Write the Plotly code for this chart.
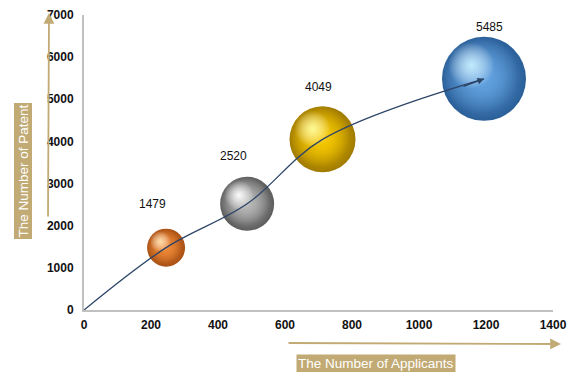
import plotly.graph_objects as go

# ---- data ----
applicants = [245, 487, 712, 1194]          # x values
patents = [1479, 2520, 4049, 5485]          # y values
bubble_px = [38, 54, 66, 84]                # bubble diameters (px)
base_colors = ["#ee8836", "#b8b8b8", "#f6c800", "#62a2e0"]
base_clear = ["rgba(238,136,54,0)", "rgba(184,184,184,0)",
              "rgba(246,200,0,0)", "rgba(98,162,224,0)"]
edge_colors = ["#a85014", "#5c5c5c", "#a07a00", "#2a5f98"]
hi_colors = ["rgba(255,225,170,0.95)", "rgba(255,255,255,0.95)",
             "rgba(255,255,150,0.95)", "rgba(195,238,255,0.95)"]
x_ticks = [0, 200, 400, 600, 800, 1000, 1200, 1400]
y_ticks = [0, 1000, 2000, 3000, 4000, 5000, 6000, 7000]

W, H = 571, 372
ML, MR, MT, MB = 84, 18, 15, 62
PW, PH = W - ML - MR, H - MT - MB
XR, YR = 1400, 7000
TAN = "#c2aa74"
NAVY = "#2b4468"


def shifted(i, fx, fy):
    r = bubble_px[i] / 2
    return applicants[i] + fx * r * XR / PW, patents[i] - fy * r * YR / PH


fig = go.Figure()

for i in range(len(applicants)):
    # base sphere: dark rim
    fig.add_trace(go.Scatter(
        x=[applicants[i]], y=[patents[i]], mode="markers",
        marker=dict(size=bubble_px[i], color=edge_colors[i],
                    gradient=dict(type="radial", color=base_colors[i]),
                    line=dict(width=0)),
        hoverinfo="skip", showlegend=False))
    # body colour, shifted up-left so the rim darkens toward lower right
    bx, by = shifted(i, -0.10, -0.10)
    fig.add_trace(go.Scatter(
        x=[bx], y=[by], mode="markers",
        marker=dict(size=bubble_px[i] * 0.92, color=base_clear[i],
                    gradient=dict(type="radial", color=base_colors[i]),
                    line=dict(width=0)),
        hoverinfo="skip", showlegend=False))
    # specular highlight
    hx, hy = shifted(i, -0.30, -0.32)
    fig.add_trace(go.Scatter(
        x=[hx], y=[hy], mode="markers",
        marker=dict(size=bubble_px[i] * 0.55, color="rgba(255,255,255,0)",
                    gradient=dict(type="radial", color=hi_colors[i]),
                    line=dict(width=0)),
        hoverinfo="skip", showlegend=False))

# trend curve over spheres
fig.add_trace(go.Scatter(
    x=[0] + applicants, y=[0] + patents, mode="lines",
    line=dict(color=NAVY, width=1.3, shape="spline", smoothing=1.0),
    hoverinfo="skip", showlegend=False))

# arrow head at the end of the curve
fig.add_annotation(x=applicants[-1], y=patents[-1], ax=-22, ay=8,
                   xref="x", yref="y", showarrow=True, arrowhead=2,
                   arrowsize=1, arrowwidth=1.3, arrowcolor=NAVY, text="")

# value labels
shifts = [(-14, 44), (-14, 48), (-4, 52), (6, 52)]
for i in range(len(applicants)):
    fig.add_annotation(x=applicants[i], y=patents[i], text=str(patents[i]),
                       showarrow=False, xshift=shifts[i][0], yshift=shifts[i][1],
                       font=dict(family="Liberation Sans", size=12, color="#111"))

# axis title boxes & arrows (paper coords)
fig.add_annotation(xref="paper", yref="paper", x=(376 - ML) / PW, y=(H - MB - 363) / PH,
                   xanchor="center", yanchor="middle",
                   text="The Number of Applicants", showarrow=False,
                   bgcolor=TAN, font=dict(family="Liberation Sans", size=13.5, color="white"),
                   borderpad=1)
fig.add_annotation(xref="paper", yref="paper", x=(22.5 - ML) / PW, y=(H - MB - 171) / PH,
                   xanchor="center", yanchor="middle",
                   text="The Number of Patent", showarrow=False, textangle=-90,
                   bgcolor=TAN, font=dict(family="Liberation Sans", size=13.5, color="white"),
                   borderpad=1)
fig.add_annotation(xref="paper", yref="paper",
                   x=(561 - ML) / PW, y=(H - MB - 344) / PH,
                   ax=-274, ay=-1,
                   text="", showarrow=True, arrowhead=2, arrowsize=1.2, arrowwidth=1.8,
                   arrowcolor=TAN)
fig.add_annotation(xref="paper", yref="paper",
                   x=(49 - ML) / PW, y=(H - MB - 13) / PH,
                   ax=-1, ay=205,
                   text="", showarrow=True, arrowhead=2, arrowsize=1.2, arrowwidth=1.8,
                   arrowcolor=TAN)

axis_font = dict(family="Liberation Sans", size=12, color="#111", weight="bold")
fig.update_xaxes(range=[0, XR], tickvals=x_ticks, showgrid=False, zeroline=False,
                 showline=True, linecolor="#c0c0c0", linewidth=2, ticks="",
                 tickfont=axis_font, ticklabelstandoff=3, automargin=False,
                 ticklabeloverflow="allow")
fig.update_yaxes(range=[0, YR], tickvals=y_ticks, showgrid=False, zeroline=False,
                 showline=True, linecolor="#c0c0c0", linewidth=2, ticks="",
                 tickfont=axis_font, ticklabelstandoff=6, automargin=False,
                 ticklabeloverflow="allow")

fig.update_layout(width=W, height=H, margin=dict(l=ML, r=MR, t=MT, b=MB),
                  plot_bgcolor="white", paper_bgcolor="white", showlegend=False)

fig.write_html("out.html")
